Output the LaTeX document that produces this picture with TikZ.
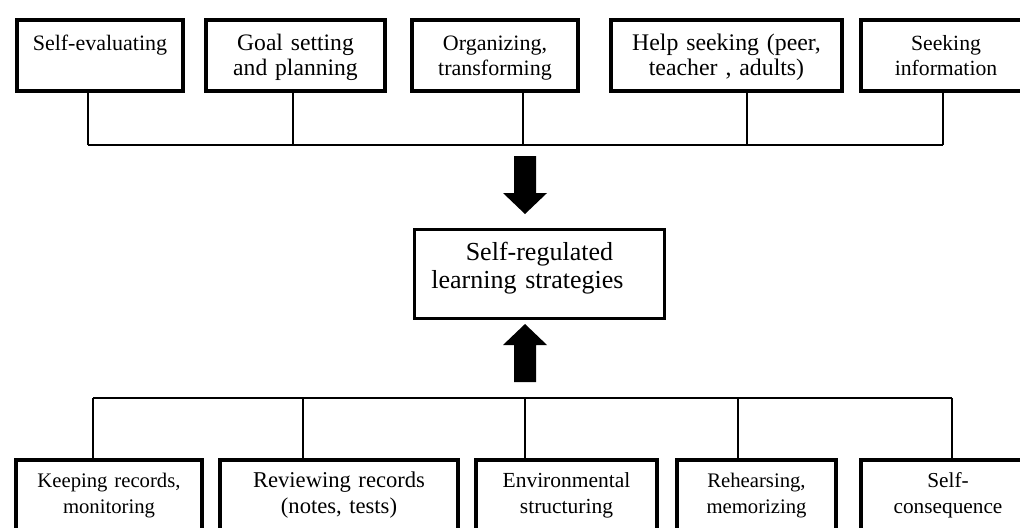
\documentclass[tikz,border=0pt]{standalone}
\usepackage{fontspec}
\setmainfont{Liberation Serif}
\tikzset{
topbox/.style={draw, line width=2pt, inner sep=0pt, anchor=north west,
  align=center, text height=15pt, text depth=20.5pt,
  font=\fontsize{#1}{12.5pt}\selectfont},
topbox/.default=11pt,
botbox/.style={draw, line width=2pt, inner sep=0pt, anchor=north west,
  align=center, text height=13.5pt, text depth=30pt,
  font=\fontsize{#1}{13pt}\selectfont},
botbox/.default=10.75pt,
midbox/.style={draw, line width=1.4pt, inner sep=0pt, anchor=north west,
  align=center, text height=15.5pt, text depth=29pt,
  font=\fontsize{13pt}{14pt}\selectfont},
link/.style={line width=0.6pt},
blockarrow/.pic={
  \fill (0,0) -- (22,-21) -- (11,-21) -- (11,-58) -- (-11,-58) --
        (-11,-21) -- (-22,-21) -- cycle;
  }
}
\begin{document}
\begin{tikzpicture}[x=0.5pt, y=-0.5pt]
\useasboundingbox (0,0) rectangle (1020,527);
\clip (0,0) rectangle (1020,527);
% upper row
\node (selfeval) [topbox, text width=83pt] at (15,18) {Self-evaluating};
\node (goalset) [topbox=11.8pt, text width=89.5pt] at (204,18) {Goal setting\\and planning};
\node (organize) [topbox, text width=83pt] at (410,18) {Organizing,\\transforming};
\node (helpseek) [topbox=11.9pt, text width=115.5pt] at (609,18) {Help seeking (peer,\\teacher , adults)};
\node (seekinfo) [topbox=10.85pt, text width=85pt] at (859,18) {Seeking\\information};
\coordinate (t1) at (88,145);
\coordinate (t2) at (293,145);
\coordinate (t3) at (523,145);
\coordinate (t4) at (747,145);
\coordinate (t5) at (943,145);
\draw[link] (t1) -- (t5);
\draw[link] (t1) -- (t1 |- selfeval.south);
\draw[link] (t2) -- (t2 |- goalset.south);
\draw[link] (t3) -- (t3 |- organize.south);
\draw[link] (t4) -- (t4 |- helpseek.south);
\draw[link] (t5) -- (t5 |- seekinfo.south);
% centre
\node (srl) [midbox, text width=125pt] at (413,228) {Self-regulated\\learning strategies\kern12pt};
\pic at (525,214) {blockarrow};
\pic[rotate=180] at (525,324) {blockarrow};
% lower row
\node (keeprec) [botbox=10.35pt, text width=93pt] at (14,458) {Keeping records,\\monitoring};
\node (reviewrec) [botbox=11.3pt, text width=119pt] at (218,458) {Reviewing records\\(notes, tests)};
\node (envstruct) [botbox, text width=90.5pt] at (474,458) {Environmental\\structuring};
\node (rehearse) [botbox=10.35pt, text width=79.5pt] at (675,458) {Rehearsing,\\memorizing};
\node (selfcons) [botbox=10.65pt, text width=87pt] at (859,458) {Self-\\consequence};
\coordinate (b1) at (93,398);
\coordinate (b2) at (303,398);
\coordinate (b3) at (525,398);
\coordinate (b4) at (738,398);
\coordinate (b5) at (952,398);
\draw[link] (b1) -- (b5);
\draw[link] (b1) -- (b1 |- keeprec.north);
\draw[link] (b2) -- (b2 |- reviewrec.north);
\draw[link] (b3) -- (b3 |- envstruct.north);
\draw[link] (b4) -- (b4 |- rehearse.north);
\draw[link] (b5) -- (b5 |- selfcons.north);
\end{tikzpicture}
\end{document}
